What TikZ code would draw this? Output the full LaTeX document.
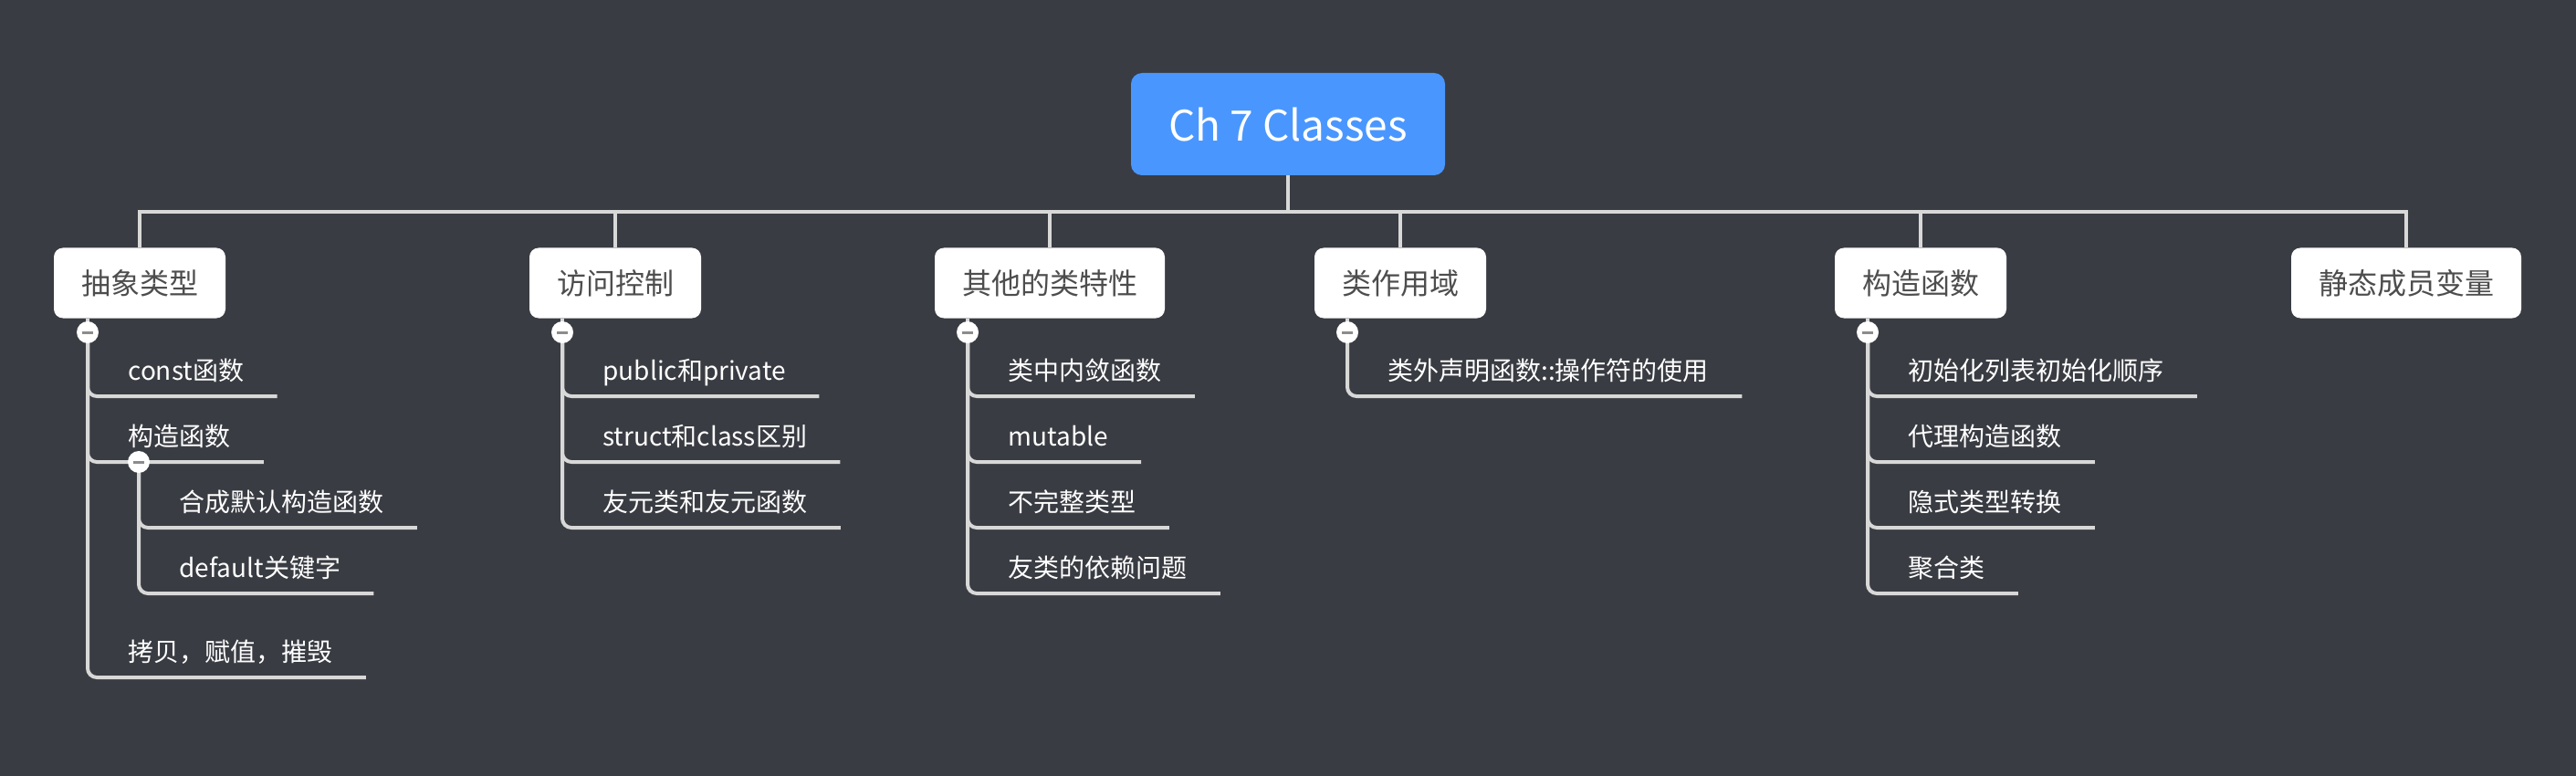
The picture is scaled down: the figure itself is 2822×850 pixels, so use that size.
\documentclass[tikz,border=0pt]{standalone}
\usepackage{fontspec}
\setmainfont{Noto Sans CJK SC}
\usetikzlibrary{positioning}
\usetikzlibrary{calc}

\definecolor{bgdark}{RGB}{57,60,66}
\definecolor{rootblue}{RGB}{74,150,255}
\definecolor{linegray}{RGB}{216,216,216}
\definecolor{topictext}{RGB}{77,77,77}
\definecolor{knobbar}{RGB}{140,140,140}

\tikzset{
  root/.style={rectangle,rounded corners=6pt,fill=rootblue,text=white,minimum width=172pt,minimum height=56pt,font=\fontsize{23}{27}\selectfont},
  topic/.style={rectangle,rounded corners=5pt,fill=white,text=topictext,minimum height=38.5pt,inner xsep=15pt,font=\fontsize{16}{19}\selectfont},
  leaf/.style={anchor=south west,text=white,inner xsep=18pt,inner ysep=8.5pt,text depth=0pt,font=\fontsize{14}{17}\selectfont},
  trunk/.style={draw=linegray,line width=2pt},
  branch/.style={draw=linegray,line width=2pt,rounded corners=5pt},
  knob/.style={circle,fill=white,minimum size=12pt,inner sep=0pt,
    path picture={\draw[knobbar,line width=1.5pt] ([xshift=-3pt]path picture bounding box.center) -- ([xshift=3pt]path picture bounding box.center);}}
}

\begin{document}
\begin{tikzpicture}[x=0.5pt,y=-0.5pt]
				
				\fill[bgdark] (0,0) rectangle (2822,850);
				\useasboundingbox (0,0) rectangle (2822,850);
				
				\node[root] (root) at (1411,136) {Ch 7 Classes};
				
				\node[topic] (t1) at (153,310) {抽象类型};
				\node[topic] (t2) at (674,310) {访问控制};
				\node[topic] (t3) at (1150,310) {其他的类特性};
				\node[topic] (t4) at (1534,310) {类作用域};
				\node[topic] (t5) at (2104,310) {构造函数};
				\node[topic] (t6) at (2636,310) {静态成员变量};
				
				\foreach \t in {t1,t2,t3,t4,t5,t6}
					\draw[trunk] (root.south) -- ++(0,40) -| (\t.north);
				
				\coordinate (k1) at (96,364);
				\coordinate (k2) at (616,364);
				\coordinate (k3) at (1060,364);
				\coordinate (k4) at (1476,364);
				\coordinate (k5) at (2046,364);
				\coordinate (k12) at (152,506);
				
				\node[leaf] (c11) at (104,434) {const函数};
				\node[leaf] (c12) at (104,506) {构造函数};
				\node[leaf] (c121) at (160,578) {合成默认构造函数};
				\node[leaf] (c122) at (160,650) {default关键字};
				\node[leaf] (c13) at (104,742) {拷贝，赋值，摧毁};
				
				\node[leaf] (c21) at (624,434) {public和private};
				\node[leaf] (c22) at (624,506) {struct和class区别};
				\node[leaf] (c23) at (624,578) {友元类和友元函数};
				
				\node[leaf] (c31) at (1068,434) {类中内敛函数};
				\node[leaf] (c32) at (1068,506) {mutable};
				\node[leaf] (c33) at (1068,578) {不完整类型};
				\node[leaf] (c34) at (1068,650) {友类的依赖问题};
				
				\node[leaf] (c41) at (1484,434) {类外声明函数::操作符的使用};
				
				\node[leaf] (c51) at (2054,434) {初始化列表初始化顺序};
				\node[leaf] (c52) at (2054,506) {代理构造函数};
				\node[leaf] (c53) at (2054,578) {隐式类型转换};
				\node[leaf] (c54) at (2054,650) {聚合类};
				
				\foreach \k/\t in {k1/t1,k2/t2,k3/t3,k4/t4,k5/t5}
					\draw[trunk] (\k |- \t.south) -- (\k);
				
				\foreach \c in {c11,c12,c13}
					\draw[branch] (k1) |- (\c.south east);
				\foreach \c in {c121,c122}
					\draw[branch] (k12) |- (\c.south east);
				\foreach \c in {c21,c22,c23}
					\draw[branch] (k2) |- (\c.south east);
				\foreach \c in {c31,c32,c33,c34}
					\draw[branch] (k3) |- (\c.south east);
				\draw[branch] (k4) |- (c41.south east);
				\foreach \c in {c51,c52,c53,c54}
					\draw[branch] (k5) |- (\c.south east);
				
				\foreach \k in {k1,k2,k3,k4,k5,k12}
					\node[knob] (n\k) at (\k) {};
				
			\end{tikzpicture}
\end{document}
